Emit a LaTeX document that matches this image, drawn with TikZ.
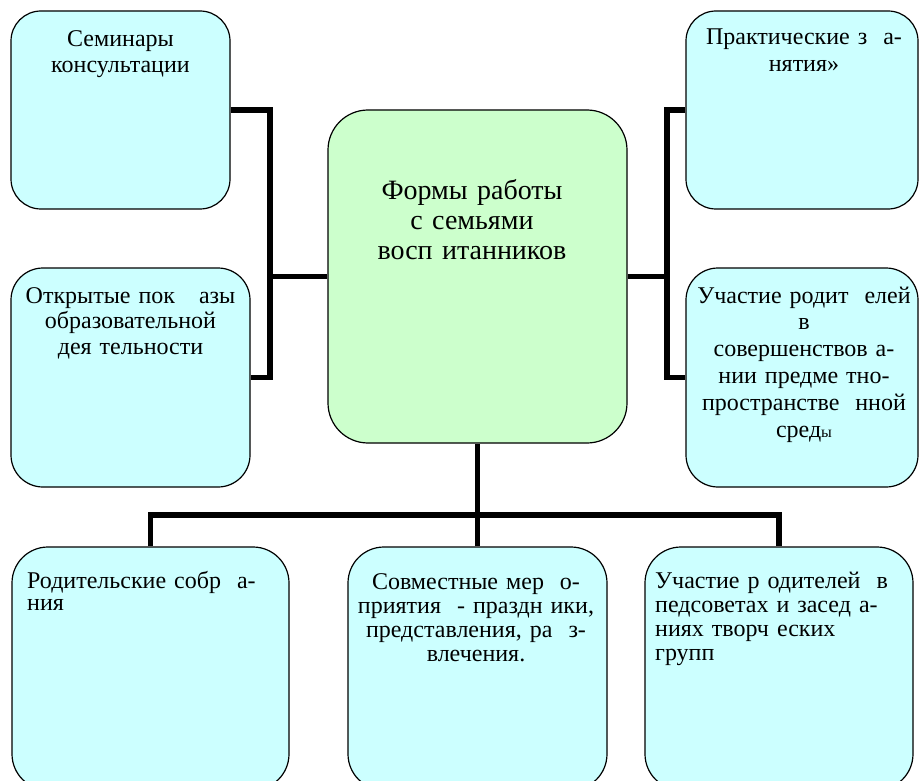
\documentclass[tikz,border=0pt]{standalone}
\usepackage{fontspec}
\setmainfont{Liberation Serif}
\definecolor{boxcyan}{HTML}{CCFFFF}
\definecolor{boxgreen}{HTML}{CCFFCC}
\begin{document}
\begin{tikzpicture}[x=1pt,y=-1pt,
  box/.style={draw=black, line width=1.2pt, fill=boxcyan, inner sep=0pt, rectangle},
  conn/.style={draw=black, line width=5.5pt, line join=miter},
  lbl/.style={font=\fontsize{24}{25.5}\selectfont, inner sep=0pt, anchor=base},
  rlbl/.style={font=\fontsize{24}{26.8}\selectfont, inner sep=0pt, anchor=base},
  blbl/.style={font=\fontsize{24}{24}\selectfont, inner sep=0pt, anchor=base},
  clbl/.style={font=\fontsize{28}{30}\selectfont, inner sep=0pt, anchor=base}]
\useasboundingbox (0,0) rectangle (919,781);
\clip (0,0) rectangle (919,781);
% boxes
\node[box, rounded corners=30pt, minimum width=219pt, minimum height=198pt] (tl) at (120.5,110) {};
\node[box, rounded corners=32pt, minimum width=239pt, minimum height=219pt] (lm) at (130.5,377.5) {};
\node[box, fill=boxgreen, rounded corners=40pt, minimum width=299pt, minimum height=333pt] (c) at (477.5,276.5) {};
\node[box, rounded corners=30pt, minimum width=232pt, minimum height=198pt] (tr) at (802,110) {};
\node[box, rounded corners=32pt, minimum width=232pt, minimum height=219pt] (rm) at (802,377.5) {};
\node[box, rounded corners=36pt, minimum width=277pt, minimum height=243pt] (b1) at (150.5,668.5) {};
\node[box, rounded corners=36pt, minimum width=259pt, minimum height=243pt] (b2) at (477.5,668.5) {};
\node[box, rounded corners=36pt, minimum width=268pt, minimum height=243pt] (b3) at (779,668.5) {};
% connectors
\coordinate (lbar) at (270,0);
\coordinate (rbar) at (667,0);
\coordinate (hbar) at (0,515);
\draw[conn] (tl.east) -| (lm.east -| lbar) -- (lm.east);
\draw[conn] (c.west) -- (c.west -| lbar);
\draw[conn] (tr.west) -| (rm.west -| rbar) -- (rm.west);
\draw[conn] (c.east) -- (c.east -| rbar);
\draw[conn] (c.south) -- (c.south |- hbar);
\draw[conn] (b1.north) -- (b1.north |- hbar) -- (b3.north |- hbar) -- (b3.north);
\draw[conn] (b2.north) -- (b2.north |- hbar);
% texts
\node[lbl, text width=215pt, align=center] (ttl) at (120.5,47) {Семинары\\консультации};
\node[lbl, text width=235pt, align=center] (tlm) at (130.5,303) {Открытые пок\ \ \ азы\\образовательной\\дея тельности};
\node[clbl, text width=290pt, align=center] (tc) at (472,200) {Формы работы\\ с семьями\\восп итанников};
\node[lbl, font=\fontsize{24}{27}\selectfont, text width=228pt, align=center] (ttr) at (804,45) {Практические з\ \ а-\\нятия»};
\node[rlbl, text width=228pt, align=center] (trm) at (804,303) {Участие родит\ \ елей\\в\\совершенствов\ а-\\нии предме тно-\\пространстве\ \ нной\\сред{\fontsize{16}{16}\selectfont ы}};
\node[blbl, font=\fontsize{24}{22.5}\selectfont, text width=255pt, align=left, anchor=base west] (tb1) at (27,588) {Родительские собр\ \ а-\\ния};
\node[blbl, text width=255pt, align=center] (tb2) at (476,589) {Совместные мер\ \ о-\\приятия\ \ - праздн ики,\\представления, ра\ \ з-\\влечения.};
\node[blbl, text width=255pt, align=left, anchor=base west] (tb3) at (655,588) {Участие р одителей\ \ в\\педсоветах и засед а-\\ниях творч еских\\групп};
\end{tikzpicture}
\end{document}
